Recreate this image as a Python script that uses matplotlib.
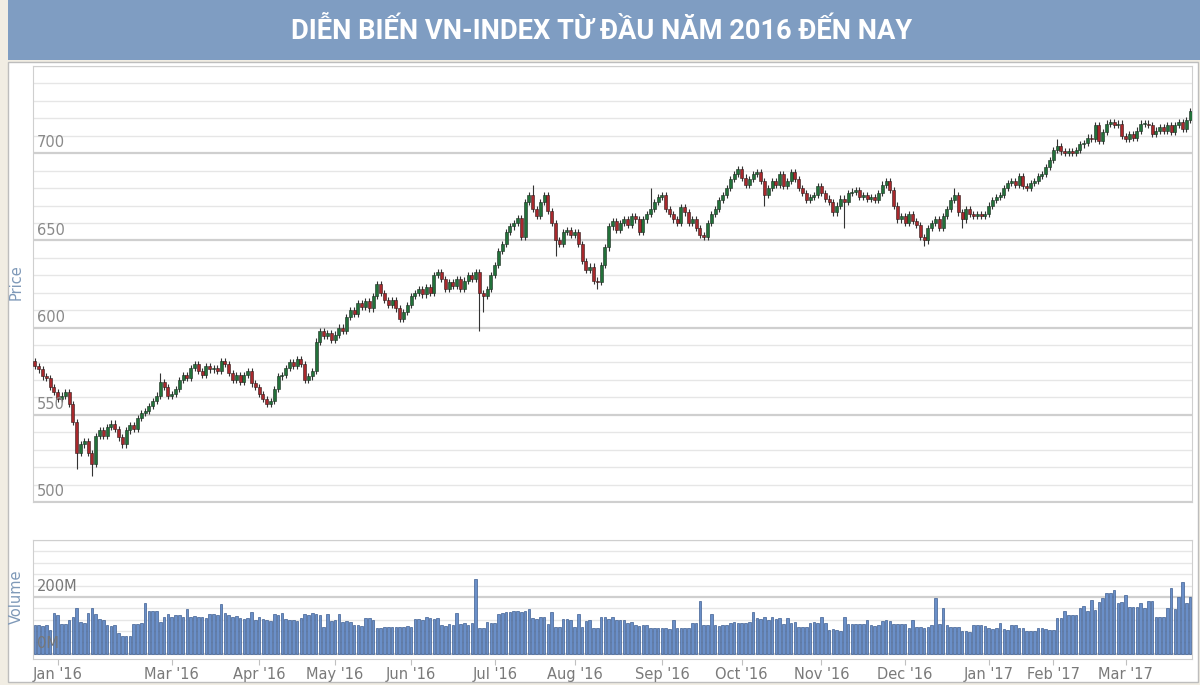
import matplotlib
matplotlib.use("Agg")
import matplotlib.pyplot as plt
from matplotlib import font_manager
from matplotlib.patches import Rectangle
import numpy as np

# daily closes, Jan 2016 -> late Mar 2017 (trading days)
closes = [
    578, 576, 572, 571, 566, 563, 559, 561, 563, 556, 546, 528, 533, 535, 528, 522, 538, 541, 538, 543,  # Jan 16
    545, 542, 537, 533, 541, 544, 542, 548, 551, 552, 555, 558, 561, 569, 566, 561,  # Feb 16
    562, 565, 570, 573, 571, 577, 579, 575, 573, 578, 576, 577, 575, 581, 579, 574, 570, 573, 569, 573, 575, 568, 566,  # Mar
    562, 559, 556, 558, 565, 572, 573, 577, 580, 578, 582, 579, 570, 572, 575, 592, 598, 595, 597, 593,  # Apr
    596, 600, 598, 606, 610, 608, 614, 612, 615, 611, 618, 625, 620, 616, 613, 616, 611, 605, 609, 613,  # May
    618, 620, 622, 619, 623, 620, 630, 632, 628, 622, 626, 624, 628, 622, 627, 630, 628, 632, 620, 618, 622, 630,  # Jun
    636, 644, 648, 655, 658, 660, 663, 652, 672, 676, 668, 664, 672, 676, 667, 660, 650, 648, 655, 656, 653,  # Jul
    655, 648, 638, 633, 635, 627, 626, 636, 646, 658, 661, 656, 660, 662, 659, 664, 662, 655, 662, 665, 668, 672, 675,  # Aug
    676, 668, 665, 662, 660, 669, 666, 660, 662, 657, 653, 652, 660, 665, 668, 673, 676, 680, 685, 688, 691,  # Sep
    686, 682, 685, 688, 689, 684, 676, 680, 684, 682, 688, 681, 684, 689, 685, 680, 677, 673, 675, 676, 681,  # Oct
    677, 674, 672, 666, 670, 674, 672, 677, 678, 679, 675, 676, 674, 675, 673, 677, 682, 684, 679, 670, 662, 664,  # Nov
    660, 665, 661, 659, 652, 650, 657, 660, 662, 657, 664, 668, 673, 676, 666, 662, 668, 665, 664, 665, 664, 665,  # Dec
    670, 673, 675, 676, 680, 683, 684, 682, 687, 681, 680, 683, 684, 687, 688, 692, 696,  # Jan 17
    702, 704, 701, 700, 701, 700, 702, 705, 706, 709, 708, 716, 707, 712, 717, 718, 716, 717, 710,  # Feb 17
    708, 711, 709, 713, 717, 717, 716, 711, 713, 715, 713, 716, 712, 716, 718, 714, 719, 724,  # Mar 17
]
first_open = 581
# notable shadows
wick_lows = {11: 519, 15: 515, 117: 598, 118: 609, 137: 641, 148: 622, 192: 670, 213: 657, 234: 647, 244: 657}
wick_highs = {33: 574, 131: 682, 162: 680, 242: 680, 269: 708, 304: 726}

# volume, millions of shares
volumes = [
    102, 100, 98, 100, 84, 144, 137, 105, 104, 120, 128, 161, 112, 108, 144, 161, 140, 122, 118, 100,
    98, 102, 75, 62, 62, 64, 105, 104, 108, 180, 150, 152, 150, 112, 128, 140,
    130, 135, 138, 130, 158, 128, 132, 128, 130, 125, 140, 140, 138, 175, 145, 136, 130, 132, 126, 122, 125, 147, 118,
    130, 122, 118, 115, 140, 138, 142, 122, 118, 120, 115, 125, 140, 138, 142, 140, 138, 95, 140, 115,
    118, 140, 112, 115, 112, 100, 100, 98, 125, 125, 120, 92, 90, 95, 96, 95, 96, 94, 95, 98,
    95, 122, 122, 120, 130, 125, 124, 126, 100, 98, 104, 100, 144, 105, 108, 102, 108, 263, 92, 90, 112, 108,
    110, 140, 145, 148, 146, 150, 150, 148, 152, 158, 126, 124, 130, 128, 105, 147, 95, 96, 122, 122, 118,
    95, 140, 95, 115, 118, 90, 92, 128, 130, 122, 130, 120, 118, 120, 110, 112, 100, 98, 102, 100, 92, 90, 92,
    90, 90, 88, 120, 92, 90, 92, 90, 110, 110, 186, 100, 100, 140, 100, 98, 102, 100, 110, 112, 110,
    108, 110, 112, 147, 125, 122, 130, 120, 128, 122, 125, 105, 125, 110, 112, 95, 94, 96, 108, 112, 110,
    130, 110, 85, 86, 84, 82, 130, 105, 104, 106, 104, 105, 120, 100, 98, 100, 115, 118, 115, 104, 106, 105,
    104, 92, 120, 96, 95, 92, 95, 100, 196, 105, 161, 100, 96, 94, 95, 82, 80, 78, 100, 102, 100, 98,
    92, 88, 90, 110, 86, 84, 100, 100, 90, 92, 82, 80, 80, 90, 92, 88, 85,
    85, 125, 126, 150, 135, 136, 135, 160, 168, 150, 190, 155, 182, 196, 213, 213, 224, 180, 182,
    207, 166, 165, 164, 180, 160, 187, 187, 130, 130, 130, 160, 232, 158, 200, 252, 180, 200,
]

month_ticks = [6, 36, 59, 79, 99, 121, 142, 165, 186, 207, 229, 251, 268, 287]
month_labels = ["Jan '16", "Mar '16", "Apr '16", "May '16", "Jun '16", "Jul '16", "Aug '16",
                "Sep '16", "Oct '16", "Nov '16", "Dec '16", "Jan '17", "Feb '17", "Mar '17"]
price_ticks = [500, 550, 600, 650, 700]
vol_ticks = [0, 200]

BG = "#f1ede3"
BANNER = "#7f9dc2"
GREEN, RED = "#22713a", "#a8282c"
VOLBLUE, VOLEDGE = "#6a8fc8", "#3f5f92"
GRID_MAJ, GRID_MIN = "#cfcfcf", "#e6e6e6"
LABEL = "#7f99b8"
TICK = "#8a8a8a"
WICK = 1.8   # minimum shadow beyond body, in points
BODY_W = 0.8

avail = {f.name for f in font_manager.fontManager.ttflist}
if "Liberation Sans Narrow" in avail:
    title_font, title_size = "Liberation Sans Narrow", 21
else:
    title_font, title_size = "Roboto", 19.6

fig = plt.figure(figsize=(12, 6.85), dpi=100, facecolor=BG)
W, H = 1200, 685


def fx(px):
    return px / W


def fy(py):
    return 1 - py / H


# banner + white panel (behind the axes)
fig.patches.append(Rectangle((fx(8), fy(60)), fx(1192), 60 / H, transform=fig.transFigure,
                             facecolor=BANNER, edgecolor="none", zorder=-10))
fig.patches.append(Rectangle((fx(8), fy(682)), fx(1190), 620 / H, transform=fig.transFigure,
                             facecolor="white", edgecolor="#bdbdbd", lw=1.0, zorder=-10))
fig.text(fx(602), fy(31), "DIỄN BIẾN VN-INDEX TỪ ĐẦU NĂM 2016 ĐẾN NAY", color="white",
         fontsize=title_size, fontweight="bold", family=[title_font, "DejaVu Sans"],
         ha="center", va="center")

n = len(closes)
x = np.arange(n)
c = np.array(closes, dtype=float)
o = np.array([first_open] + closes[:-1], dtype=float)
up = c >= o
lo = np.minimum(o, c)
hi = np.maximum(o, c)
lows = np.array([wick_lows.get(i, lo[i] - WICK) for i in range(n)])
highs = np.array([wick_highs.get(i, hi[i] + WICK) for i in range(n)])

# price panel
ax = fig.add_axes([fx(33), fy(502), fx(1159), (502 - 66) / H])
ax.set_xlim(-0.5, n - 0.5)
ax.set_ylim(500, 750)
ax.set_yticks(price_ticks + [750])
ax.set_yticks(np.arange(510, 750, 10), minor=True)
ax.grid(True, which="major", axis="y", color=GRID_MAJ, lw=1.6)
ax.grid(True, which="minor", axis="y", color=GRID_MIN, lw=1.0)
ax.tick_params(which="both", left=False, bottom=False, labelleft=False, labelbottom=False)
for s in ax.spines.values():
    s.set_color(GRID_MAJ)
ax.set_axisbelow(True)

ax.vlines(x, lows, highs, color="#333333", lw=0.8, zorder=2)
body_h = np.maximum(hi - lo, 0.5)
ax.bar(x[up], body_h[up], bottom=lo[up], width=BODY_W, color=GREEN, edgecolor="#1b2a1f", lw=0.4, zorder=3)
ax.bar(x[~up], body_h[~up], bottom=lo[~up], width=BODY_W, color=RED, edgecolor="#2a1b1b", lw=0.4, zorder=3)

for v in price_ticks:
    ax.annotate(str(v), xy=(0, v), xycoords=("axes fraction", "data"), xytext=(3, 2),
                textcoords="offset points", ha="left", va="bottom", color=TICK, fontsize=10.5, zorder=4)
fig.text(fx(16), fy(282), "Price", rotation=90, ha="center", va="center", color=LABEL, fontsize=10.5)

# volume panel
axv = fig.add_axes([fx(33), fy(659), fx(1159), (659 - 540) / H])
axv.set_xlim(-0.5, n - 0.5)
axv.set_ylim(-18, 400)
axv.set_yticks([0, 200, 400])
axv.set_yticks([40, 80, 120, 160, 240, 280, 320, 360], minor=True)
axv.grid(True, which="major", axis="y", color=GRID_MAJ, lw=1.6)
axv.grid(True, which="minor", axis="y", color=GRID_MIN, lw=1.0)
axv.set_axisbelow(True)
axv.tick_params(which="both", left=False, labelleft=False)
axv.tick_params(axis="x", which="major", length=4, color="#c0c0c0", labelsize=10.5, labelcolor="#7a7a7a", pad=1.5)
for s in axv.spines.values():
    s.set_color(GRID_MAJ)
axv.bar(x, volumes, width=0.72, color=VOLBLUE, edgecolor=VOLEDGE, lw=0.5, zorder=2)
axv.set_xticks(month_ticks)
axv.set_xticklabels(month_labels)
for v in vol_ticks:
    axv.annotate(f"{v}M", xy=(0, v), xycoords=("axes fraction", "data"), xytext=(3, 2),
                 textcoords="offset points", ha="left", va="bottom", color="#777777", fontsize=10.5, zorder=4)
fig.text(fx(16), fy(597), "Volume", rotation=90, ha="center", va="center", color=LABEL, fontsize=10.5)

fig.savefig("out.png", dpi=100, facecolor=BG)
